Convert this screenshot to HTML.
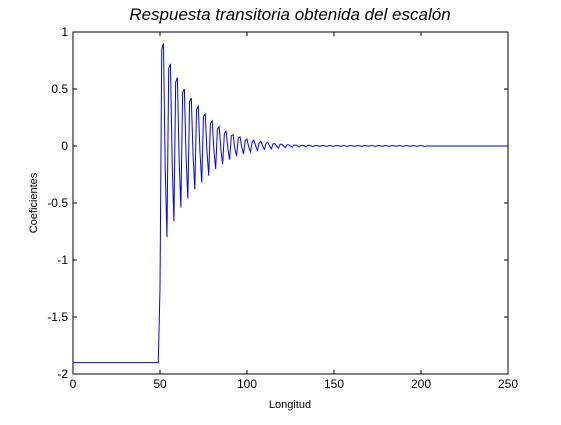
<!DOCTYPE html>
<html><head><meta charset="utf-8"><style>
body{margin:0;background:#fff;width:561px;height:420px;overflow:hidden}
svg text{font-family:"Liberation Sans",sans-serif;fill:#000}
</style></head><body>
<svg id="chart" width="561" height="420">
<rect x="0" y="0" width="561" height="420" fill="#fff"/>
<text x="290" y="20" font-size="17" font-style="italic" text-anchor="middle">Respuesta transitoria obtenida del escalón</text>
<g id="axes"></g>
<text x="290" y="408" font-size="11" text-anchor="middle">Longitud</text>
<text x="0" y="0" font-size="11" text-anchor="middle" transform="translate(37,203) rotate(-90)">Coeficientes</text>
</svg>
<script>
const xTicks=[0,50,100,150,200,250];
const yTicks=[1,0.5,0,-0.5,-1,-1.5,-2];
const yTickLabels=["1","0.5","0","-0.5","-1","-1.5","-2"];
const preStep=Array(50).fill(-1.9);
const transient=[-1.25,
0.85,0.9,-0.2,-0.8,
0.68,0.72,-0.15,-0.66,
0.56,0.6,-0.12,-0.54,
0.47,0.5,-0.1,-0.46,
0.39,0.42,-0.08,-0.38,
0.32,0.35,-0.06,-0.32,
0.26,0.28,-0.05,-0.26,
0.2,0.22,-0.04,-0.2,
0.15,0.17,-0.03,-0.16,
0.11,0.13,-0.02,-0.12,
0.09,0.1,-0.02,-0.09,
0.07,0.08,-0.01,-0.07,
0.05,0.06,-0.01,-0.05,
0.04,0.05,0,-0.04,
0.03,0.04,0,-0.03,
0.025,0.03,0,-0.025,
0.02,0.02,0,-0.02,
0.015,0.015,0,-0.015,
0.01,0.01,0,-0.01,
0.008,0.008,0,-0.008,
0.006,0.006,0,-0.006,
0.005,0.005,0,-0.005,
0.004,0.004,0,-0.004,
0.004,0.004,0,-0.004,
0.003,0.003,0,-0.003,
0.003,0.003,0,-0.003,
0.003,0.003,0,-0.003,
0.003,0.003,0,-0.003,
0.003,0.003,0,-0.003,
0.003,0.003,0,-0.003,
0.003,0.003,0,-0.003,
0.003,0.003,0,-0.003,
0.003,0.003,0,-0.003,
0.003,0.003,0,-0.003,
0.003,0.003,0,-0.003,
0.003,0.003,0,-0.003,
0.003,0.003,0,-0.003,
0.003,0.003,0,-0.003];
const tail=Array(251-50-transient.length).fill(0);
const values=preStep.concat(transient,tail);

const L=73,R=508,T=32,B=374;
const xs=v=>L+(v-0)/(250-0)*(R-L);
const ys=v=>B-(v-(-2))/(1-(-2))*(B-T);
const NS='http://www.w3.org/2000/svg';
const g=document.getElementById('axes');
function mk(t,a){const e=document.createElementNS(NS,t);for(const k in a)e.setAttribute(k,a[k]);g.appendChild(e);return e;}
const box=mk('rect',{x:L,y:T,width:R-L,height:B-T,fill:'none',stroke:'#000','stroke-width':1});


xTicks.forEach(v=>{
  const x=xs(v);
  const t1=mk('path',{d:`M${x} ${B}V${B-4}M${x} ${T}V${T+4}`,stroke:'#000'});
  
  
  const tx=mk('text',{x:x,y:B+14,'font-size':12,'text-anchor':'middle'});
  tx.textContent=v;
  
  
});
yTicks.forEach((v,i)=>{
  const y=ys(v);
  const t1=mk('path',{d:`M${L} ${y}H${L+4}M${R} ${y}H${R-4}`,stroke:'#000'});
  
  
  const tx=mk('text',{x:L-5,y:y+4,'font-size':12,'text-anchor':'end'});
  tx.textContent=yTickLabels[i];
  
  
});
const pts=values.map((v,i)=>xs(i).toFixed(2)+','+ys(v).toFixed(2)).join(' ');
const line=mk('polyline',{points:pts,fill:'none',stroke:'#0000ff','stroke-width':1});


</script>
</body></html>
